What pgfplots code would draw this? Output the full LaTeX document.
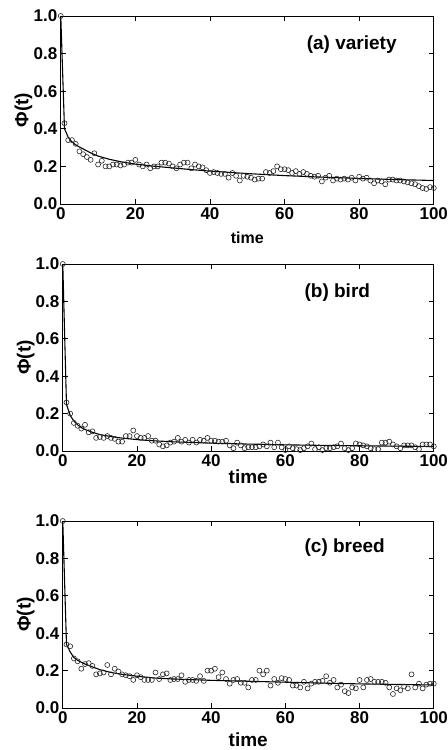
\documentclass[border=0pt]{standalone}
\usepackage{pgfplots}
\pgfplotsset{compat=1.18}
\usepackage{fontspec}
\setmainfont{Liberation Sans}
\begin{document}
\pgfplotsset{
  panel/.style={
    scale only axis,
    xmin=0, xmax=100, ymin=0, ymax=1,
    xtick={0,20,40,60,80,100},
    ytick={0,0.2,0.4,0.6,0.8,1.0},
    yticklabel style={/pgf/number format/.cd, fixed, fixed zerofill, precision=1},
    /pgf/number format/assume math mode=true,
    tick label style={font=\fontsize{17bp}{18bp}\selectfont\bfseries},
    xticklabel style={inner xsep=0pt},
    axis line style={line width=1pt},
    major tick style={line width=0.8pt, black},
    major tick length=5bp,
    tick align=inside,
    ylabel={Φ(t)},
    ylabel style={at={(axis description cs:-0.1,0.5)}, anchor=center, font=\fontsize{19bp}{20bp}\selectfont\bfseries},
    xlabel={time},
    clip=false,
  },
  pts/.style={only marks, mark=o, mark size=2.5bp, mark options={draw=black!85, fill=black!15, line width=0.6pt}},
  fit/.style={black, line width=1.1pt, no marks},
}
\begin{tikzpicture}
\useasboundingbox (0,0) rectangle (445bp,-750bp);
% ---------- (a) ----------
\begin{axis}[panel, at={(58bp,-204bp)}, anchor=south west, width=373bp, height=188bp,
  xlabel style={at={(axis description cs:0.5,-0.18)}, anchor=center, font=\fontsize{16bp}{17bp}\selectfont\bfseries}]
\addplot[pts] table {
x y
0 1.0
1 0.43
2 0.34
3 0.34
4 0.32
5 0.28
6 0.265
7 0.25
8 0.235
9 0.27
10 0.21
11 0.23
12 0.20
13 0.20
14 0.21
15 0.21
16 0.205
17 0.21
18 0.22
19 0.22
20 0.235
21 0.21
22 0.20
23 0.21
24 0.19
25 0.20
26 0.20
27 0.22
28 0.22
29 0.215
30 0.20
31 0.19
32 0.21
33 0.22
34 0.22
35 0.19
36 0.21
37 0.20
38 0.195
39 0.18
40 0.165
41 0.17
42 0.165
43 0.16
44 0.16
45 0.14
46 0.165
47 0.15
48 0.125
49 0.15
50 0.145
51 0.14
52 0.13
53 0.135
54 0.135
55 0.17
56 0.165
57 0.175
58 0.20
59 0.185
60 0.185
61 0.18
62 0.165
63 0.175
64 0.16
65 0.17
66 0.16
67 0.15
68 0.145
69 0.15
70 0.12
71 0.14
72 0.15
73 0.125
74 0.135
75 0.13
76 0.135
77 0.13
78 0.14
79 0.125
80 0.145
81 0.135
82 0.14
83 0.125
84 0.11
85 0.125
86 0.12
87 0.105
88 0.13
89 0.13
90 0.125
91 0.125
92 0.12
93 0.115
94 0.11
95 0.105
96 0.095
97 0.085
98 0.08
99 0.09
100 0.085
};
\addplot[fit] table {
x y
0 1.0
1 0.40
2 0.355
3 0.33
4 0.315
5 0.303
6 0.293
8 0.272
10 0.255
13 0.238
16 0.225
20 0.212
25 0.201
30 0.192
35 0.183
40 0.175
50 0.162
60 0.151
70 0.143
80 0.136
90 0.130
100 0.125
};
\node[font=\fontsize{19bp}{20bp}\selectfont\bfseries] at (axis cs:78,0.846) {(a) variety};
\end{axis}
% ---------- (b) ----------
\begin{axis}[panel, at={(60bp,-451bp)}, anchor=south west, width=371bp, height=187bp,
  xlabel style={at={(axis description cs:0.5,-0.14)}, anchor=center, font=\fontsize{19bp}{20bp}\selectfont\bfseries}]
\addplot[pts] table {
x y
0 1.0
1 0.26
2 0.20
3 0.15
4 0.135
5 0.12
6 0.14
7 0.10
8 0.105
9 0.07
10 0.075
11 0.07
12 0.08
13 0.07
14 0.065
15 0.05
16 0.05
17 0.08
18 0.08
19 0.11
20 0.08
21 0.07
22 0.07
23 0.08
24 0.055
25 0.055
26 0.035
27 0.025
28 0.03
29 0.045
30 0.05
31 0.07
32 0.05
33 0.06
34 0.045
35 0.06
36 0.045
37 0.06
38 0.055
39 0.07
40 0.055
41 0.055
42 0.05
43 0.05
44 0.055
45 0.03
46 0.015
47 0.045
48 0.03
49 0.015
50 0.02
51 0.02
52 0.02
53 0.025
54 0.035
55 0.025
56 0.045
57 0.02
58 0.045
59 0.02
60 0.005
61 0.025
62 0.015
63 0.01
64 0.005
65 0.015
66 0.025
67 0.04
68 0.01
69 0.02
70 0.005
71 0.015
72 0.015
73 0.02
74 0.025
75 0.04
76 0.015
77 0.005
78 0.015
79 0.04
80 0.035
81 0.03
82 0.025
83 0.015
84 0.01
85 0.01
86 0.045
87 0.045
88 0.05
89 0.035
90 0.025
91 0.015
92 0.03
93 0.03
94 0.03
95 0.02
96 0.01
97 0.035
98 0.035
99 0.035
100 0.025
};
\addplot[fit] table {
x y
0 1.0
1 0.25
2 0.19
3 0.16
4 0.14
5 0.125
6 0.115
8 0.10
10 0.088
13 0.077
16 0.069
20 0.061
25 0.054
30 0.049
40 0.042
50 0.037
60 0.033
70 0.030
80 0.028
90 0.026
100 0.024
};
\node[font=\fontsize{19bp}{20bp}\selectfont\bfseries] at (axis cs:74,0.845) {(b) bird};
\end{axis}
% ---------- (c) ----------
\begin{axis}[panel, at={(60bp,-708bp)}, anchor=south west, width=371bp, height=187bp,
  xlabel style={at={(axis description cs:0.5,-0.17)}, anchor=center, font=\fontsize{19bp}{20bp}\selectfont\bfseries}]
\addplot[pts] table {
x y
0 1.0
1 0.34
2 0.33
3 0.265
4 0.25
5 0.21
6 0.235
7 0.24
8 0.225
9 0.18
10 0.185
11 0.19
12 0.23
13 0.18
14 0.21
15 0.195
16 0.18
17 0.175
18 0.17
19 0.15
20 0.175
21 0.165
22 0.15
23 0.15
24 0.15
25 0.19
26 0.155
27 0.18
28 0.185
29 0.15
30 0.155
31 0.155
32 0.175
33 0.14
34 0.15
35 0.15
36 0.145
37 0.17
38 0.145
39 0.20
40 0.20
41 0.21
42 0.165
43 0.19
44 0.155
45 0.13
46 0.15
47 0.155
48 0.135
49 0.135
50 0.11
51 0.15
52 0.15
53 0.20
54 0.18
55 0.20
56 0.12
57 0.155
58 0.135
59 0.16
60 0.155
61 0.15
62 0.12
63 0.12
64 0.11
65 0.14
66 0.105
67 0.13
68 0.14
69 0.14
70 0.145
71 0.17
72 0.135
73 0.15
74 0.11
75 0.125
76 0.09
77 0.08
78 0.11
79 0.105
80 0.15
81 0.11
82 0.15
83 0.155
84 0.14
85 0.14
86 0.14
87 0.135
88 0.11
89 0.075
90 0.105
91 0.095
92 0.115
93 0.105
94 0.18
95 0.11
96 0.13
97 0.105
98 0.125
99 0.13
100 0.13
};
\addplot[fit] table {
x y
0 1.0
1 0.34
2 0.30
3 0.27
4 0.255
5 0.245
6 0.235
8 0.22
10 0.205
13 0.19
16 0.18
20 0.17
25 0.16
30 0.155
40 0.148
50 0.143
60 0.138
70 0.133
80 0.129
90 0.126
100 0.123
};
\node[font=\fontsize{19bp}{20bp}\selectfont\bfseries] at (axis cs:76,0.86) {(c) breed};
\end{axis}
\end{tikzpicture}
\end{document}
